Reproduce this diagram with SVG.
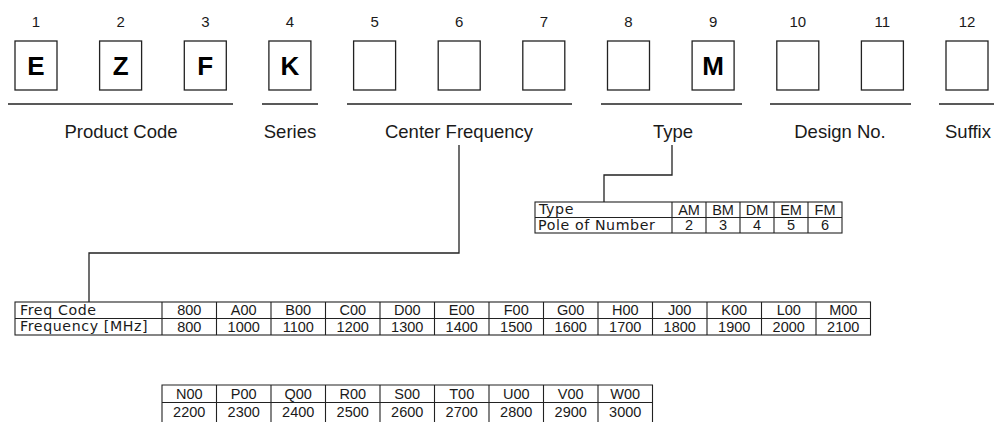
<svg xmlns="http://www.w3.org/2000/svg" width="994" height="422" viewBox="0 0 994 422">
<style>
text{font-family:"Liberation Sans",Arial,Helvetica,sans-serif;fill:#1a1a1a}
.num{font-size:15px;text-anchor:middle}
.let{font-size:26px;font-weight:bold;text-anchor:middle;fill:#000}
.box{fill:#fff;stroke:#222;stroke-width:1.3}
.ul{stroke:#222;stroke-width:1.3}
.lab{font-size:18.5px;text-anchor:middle}
.tb{fill:none;stroke:#222;stroke-width:1.1}
.t{font-family:"DejaVu Sans","Liberation Sans",sans-serif;font-size:14.2px;letter-spacing:0.6px}
.c{font-size:14.5px;text-anchor:middle}
.con{fill:none;stroke:#222;stroke-width:1.3}
</style>
<rect width="994" height="422" fill="#fff"/>

<g id="pos1"><text class="num" x="36" y="27">1</text><rect class="box" x="15" y="41" width="42" height="49"/><text class="let" x="36" y="75">E</text></g>
<g id="pos2"><text class="num" x="120.6" y="27">2</text><rect class="box" x="99.6" y="41" width="42" height="49"/><text class="let" x="120.6" y="75">Z</text></g>
<g id="pos3"><text class="num" x="205.3" y="27">3</text><rect class="box" x="184.3" y="41" width="42" height="49"/><text class="let" x="205.3" y="75">F</text></g>
<g id="pos4"><text class="num" x="289.9" y="27">4</text><rect class="box" x="268.9" y="41" width="42" height="49"/><text class="let" x="289.9" y="75">K</text></g>
<g id="pos5"><text class="num" x="374.6" y="27">5</text><rect class="box" x="353.6" y="41" width="42" height="49"/></g>
<g id="pos6"><text class="num" x="459.2" y="27">6</text><rect class="box" x="438.2" y="41" width="42" height="49"/></g>
<g id="pos7"><text class="num" x="543.8" y="27">7</text><rect class="box" x="522.8" y="41" width="42" height="49"/></g>
<g id="pos8"><text class="num" x="628.5" y="27">8</text><rect class="box" x="607.5" y="41" width="42" height="49"/></g>
<g id="pos9"><text class="num" x="713.1" y="27">9</text><rect class="box" x="692.1" y="41" width="42" height="49"/><text class="let" x="713.1" y="75">M</text></g>
<g id="pos10"><text class="num" x="797.8" y="27">10</text><rect class="box" x="776.8" y="41" width="42" height="49"/></g>
<g id="pos11"><text class="num" x="882.4" y="27">11</text><rect class="box" x="861.4" y="41" width="42" height="49"/></g>
<g id="pos12"><text class="num" x="967" y="27">12</text><rect class="box" x="946" y="41" width="42" height="49"/></g>

<g id="grp-product-code"><line class="ul" x1="8" y1="104" x2="233" y2="104"/><text class="lab" x="121" y="138">Product Code</text></g>
<g id="grp-series"><line class="ul" x1="262" y1="104" x2="318" y2="104"/><text class="lab" x="290" y="138">Series</text></g>
<g id="grp-center-frequency"><line class="ul" x1="347" y1="104" x2="572" y2="104"/><text class="lab" x="459" y="138">Center Frequency</text></g>
<g id="grp-type"><line class="ul" x1="601" y1="104" x2="742" y2="104"/><text class="lab" x="673" y="138">Type</text></g>
<g id="grp-design-no"><line class="ul" x1="770" y1="104" x2="911" y2="104"/><text class="lab" x="840" y="138">Design No.</text></g>
<g id="grp-suffix"><line class="ul" x1="939" y1="104" x2="994" y2="104"/><text class="lab" x="968" y="138">Suffix</text></g>

<g id="connectors">
<polyline class="con" points="672,145 672,175 604,175 604,202"/>
<polyline class="con" points="459,145 459,253 89,253 89,302"/>
</g>

<g id="type-table">
<rect class="tb" x="535" y="202" width="307" height="31"/>
<line class="tb" x1="535" y1="217.5" x2="842" y2="217.5"/>
<path class="tb" d="M672 202V233M706 202V233M740 202V233M774 202V233M808 202V233"/>
<text class="t" x="539" y="214">Type</text>
<text class="t" x="538" y="230">Pole of Number</text>
<text class="c" x="689" y="214.5">AM</text><text class="c" x="723" y="214.5">BM</text><text class="c" x="757" y="214.5">DM</text><text class="c" x="791" y="214.5">EM</text><text class="c" x="825" y="214.5">FM</text>
<text class="c" x="689" y="230">2</text><text class="c" x="723" y="230">3</text><text class="c" x="757" y="230">4</text><text class="c" x="791" y="230">5</text><text class="c" x="825" y="230">6</text>
</g>

<g id="freq-table">
<rect class="tb" x="15" y="302" width="855.5" height="33"/>
<line class="tb" x1="15" y1="318.5" x2="870.5" y2="318.5"/>
<path class="tb" d="M162 302V335M216.5 302V335M271 302V335M325.5 302V335M380 302V335M434.5 302V335M489 302V335M543.5 302V335M598 302V335M652.5 302V335M707 302V335M761.5 302V335M816 302V335"/>
<text class="t" x="20" y="314.5">Freq Code</text>
<text class="t" x="20" y="331">Frequency [MHz]</text>
<text class="c" x="189.25" y="315">800</text><text class="c" x="243.75" y="315">A00</text><text class="c" x="298.25" y="315">B00</text><text class="c" x="352.75" y="315">C00</text><text class="c" x="407.25" y="315">D00</text><text class="c" x="461.75" y="315">E00</text><text class="c" x="516.25" y="315">F00</text><text class="c" x="570.75" y="315">G00</text><text class="c" x="625.25" y="315">H00</text><text class="c" x="679.75" y="315">J00</text><text class="c" x="734.25" y="315">K00</text><text class="c" x="788.75" y="315">L00</text><text class="c" x="843.25" y="315">M00</text>
<text class="c" x="189.25" y="331.5">800</text><text class="c" x="243.75" y="331.5">1000</text><text class="c" x="298.25" y="331.5">1100</text><text class="c" x="352.75" y="331.5">1200</text><text class="c" x="407.25" y="331.5">1300</text><text class="c" x="461.75" y="331.5">1400</text><text class="c" x="516.25" y="331.5">1500</text><text class="c" x="570.75" y="331.5">1600</text><text class="c" x="625.25" y="331.5">1700</text><text class="c" x="679.75" y="331.5">1800</text><text class="c" x="734.25" y="331.5">1900</text><text class="c" x="788.75" y="331.5">2000</text><text class="c" x="843.25" y="331.5">2100</text>
</g>

<g id="freq-table-2">
<path class="tb" d="M162 423V385H652.5V423M162 402.5H652.5M216.5 385V423M271 385V423M325.5 385V423M380 385V423M434.5 385V423M489 385V423M543.5 385V423M598 385V423"/>
<text class="c" x="189.25" y="398.5">N00</text><text class="c" x="243.75" y="398.5">P00</text><text class="c" x="298.25" y="398.5">Q00</text><text class="c" x="352.75" y="398.5">R00</text><text class="c" x="407.25" y="398.5">S00</text><text class="c" x="461.75" y="398.5">T00</text><text class="c" x="516.25" y="398.5">U00</text><text class="c" x="570.75" y="398.5">V00</text><text class="c" x="625.25" y="398.5">W00</text>
<text class="c" x="189.25" y="417">2200</text><text class="c" x="243.75" y="417">2300</text><text class="c" x="298.25" y="417">2400</text><text class="c" x="352.75" y="417">2500</text><text class="c" x="407.25" y="417">2600</text><text class="c" x="461.75" y="417">2700</text><text class="c" x="516.25" y="417">2800</text><text class="c" x="570.75" y="417">2900</text><text class="c" x="625.25" y="417">3000</text>
</g>
</svg>
